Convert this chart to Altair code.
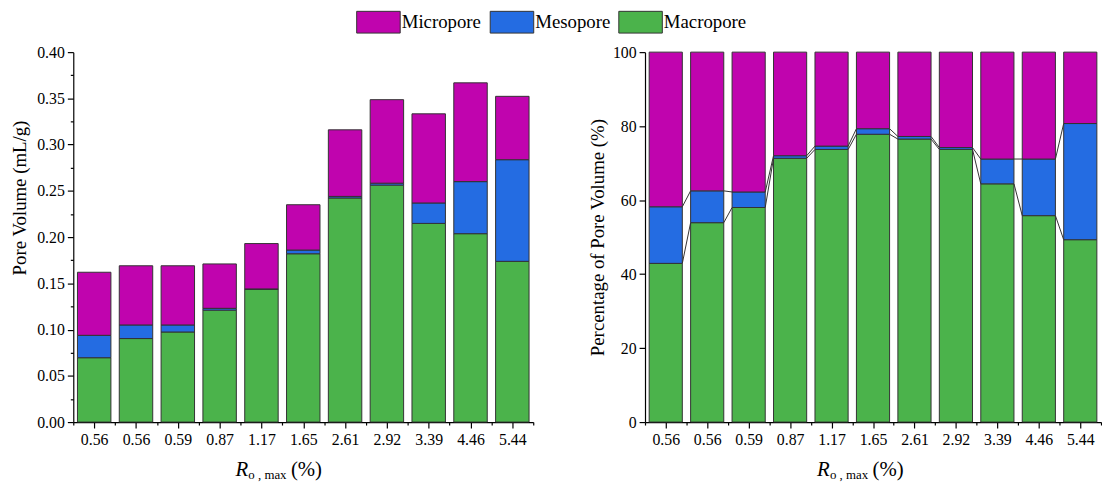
import altair as alt
import pandas as pd

# ---- data ----
ro_labels = ["0.56", "0.56", "0.59", "0.87", "1.17", "1.65", "2.61", "2.92", "3.39", "4.46", "5.44"]
components = ["Micropore", "Mesopore", "Macropore"]
colors = ["#C004AE", "#246CE2", "#4BB34B"]

macro_vol = [0.0696, 0.0903, 0.0974, 0.1210, 0.1434, 0.1820, 0.2423, 0.2562, 0.2148, 0.2037, 0.1738]
meso_vol = [0.0242, 0.0147, 0.0076, 0.0020, 0.0006, 0.0040, 0.0017, 0.0021, 0.0221, 0.0563, 0.1099]
micro_vol = [0.0682, 0.0640, 0.0640, 0.0480, 0.0490, 0.0490, 0.0720, 0.0903, 0.0964, 0.1068, 0.0685]

macro_pct = [42.9, 53.9, 58.0, 71.3, 73.7, 77.8, 76.5, 73.7, 64.4, 55.8, 49.3]
meso_pct = [15.3, 8.6, 4.2, 0.7, 0.9, 1.5, 0.7, 0.5, 6.7, 15.3, 31.4]
micro_pct = [round(100 - a - b, 2) for a, b in zip(macro_pct, meso_pct)]

HALF = 0.4  # half bar width in category units


def stacked(macro, meso, micro):
    rows = []
    for i in range(len(ro_labels)):
        b0 = 0.0
        for comp, v in (("Macropore", macro[i]), ("Mesopore", meso[i]), ("Micropore", micro[i])):
            rows.append({"idx": i, "lo": i - HALF, "hi": i + HALF,
                         "component": comp, "y0": b0, "y1": b0 + v})
            b0 += v
    return pd.DataFrame(rows)


def connectors(macro, meso):
    rows = []
    for i in range(len(ro_labels) - 1):
        rows.append({"xa": i + HALF, "xb": i + 1 - HALF, "ya": macro[i], "yb": macro[i + 1]})
        rows.append({"xa": i + HALF, "xb": i + 1 - HALF,
                     "ya": macro[i] + meso[i], "yb": macro[i + 1] + meso[i + 1]})
    return pd.DataFrame(rows)


left_df = stacked(macro_vol, meso_vol, micro_vol)
right_df = stacked(macro_pct, meso_pct, micro_pct)
conn_df = connectors(macro_pct, meso_pct)

FONT = "Liberation Serif"
W_L, W_R, H = 465, 461, 374

label_arr = "[" + ",".join("'" + s + "'" for s in ro_labels) + "]"
x_scale = alt.Scale(domain=[-0.5, len(ro_labels) - 0.5], nice=False, zero=False)
x_axis = alt.Axis(
    title=None,
    values=[k * 0.5 - 0.5 for k in range(2 * len(ro_labels) + 1)],
    labelExpr="datum.value % 1 == 0 ? " + label_arr + "[datum.value] : ''",
    tickSize={"condition": {"test": "datum.value % 1 != 0", "value": 3}, "value": 6},
    labelPadding=4,
    labelFlush=False,
    labelOverlap=False,
)

color = alt.Color(
    "component:N",
    scale=alt.Scale(domain=components, range=colors),
    legend=alt.Legend(
        title=None, orient="none", direction="horizontal",
        legendX=297, legendY=-42,
        symbolType="M-2,-1H2V1H-2Z", symbolSize=484,
        symbolStrokeColor="#333333", symbolStrokeWidth=1, symbolOpacity=1,
        labelFont=FONT, labelFontSize=19, labelColor="#000000",
        labelOffset=12, columnPadding=6, padding=0,
    ),
)


def bar_layer(df, y_enc):
    return alt.Chart(df).mark_bar(stroke="#333333", strokeWidth=1, opacity=1).encode(
        x=alt.X("lo:Q", scale=x_scale, axis=x_axis),
        x2="hi:Q",
        y=y_enc,
        y2="y1:Q",
        color=color,
    )


def xtitle(offset_x):
    one = pd.DataFrame({"k": [0]})
    base = alt.Chart(one)
    r = base.mark_text(text="R", font=FONT, fontSize=21, fontStyle="italic",
                       align="left", baseline="alphabetic", color="#000000").encode(
        x=alt.value(offset_x), y=alt.value(H + 55))
    sub = base.mark_text(text="o , max", font=FONT, fontSize=13,
                         align="left", baseline="alphabetic", color="#000000").encode(
        x=alt.value(offset_x + 13), y=alt.value(H + 58))
    pc = base.mark_text(text="(%)", font=FONT, fontSize=21,
                        align="left", baseline="alphabetic", color="#000000").encode(
        x=alt.value(offset_x + 56), y=alt.value(H + 55))
    return [r, sub, pc]


left_y = alt.Y(
    "y0:Q",
    scale=alt.Scale(domain=[0, 0.4], nice=False),
    axis=alt.Axis(
        title="Pore Volume (mL/g)",
        values=[k * 0.025 for k in range(17)],
        labelExpr="abs(datum.value*20 - round(datum.value*20)) < 0.001 ? format(datum.value, '.2f') : ''",
        tickSize={"condition": {"test": "abs(datum.value*20 - round(datum.value*20)) >= 0.001", "value": 3}, "value": 6},
        titleY=147, titlePadding=7,
    ),
)

right_y = alt.Y(
    "y0:Q",
    scale=alt.Scale(domain=[0, 100], nice=False),
    axis=alt.Axis(
        title="Percentage of Pore Volume (%)",
        values=list(range(0, 101, 10)),
        labelExpr="datum.value % 20 == 0 ? datum.label : ''",
        tickSize={"condition": {"test": "datum.value % 20 != 0", "value": 3}, "value": 6},
        titlePadding=5,
    ),
)

left = alt.layer(bar_layer(left_df, left_y), *xtitle(164)).properties(width=W_L, height=H)

rules = alt.Chart(conn_df).mark_rule(color="#333333", strokeWidth=1).encode(
    x=alt.X("xa:Q", scale=x_scale, axis=x_axis),
    x2="xb:Q",
    y=alt.Y("ya:Q"),
    y2="yb:Q",
)
right = alt.layer(bar_layer(right_df, right_y), rules, *xtitle(174)).properties(width=W_R, height=H)

chart = alt.hconcat(left, right, spacing=55).properties(
    padding={"left": 3, "top": 0, "right": 0, "bottom": 0}
).configure_view(
    strokeWidth=0
).configure_axis(
    grid=False,
    labelFont=FONT, labelFontSize=16, labelColor="#000000",
    titleFont=FONT, titleFontSize=19, titleFontWeight="normal", titleColor="#000000",
    domainColor="#000000", domainWidth=1.2, tickColor="#000000", tickWidth=1.2,
    labelPadding=3,
)

chart.save("out.html", embed_options={"renderer": "svg", "actions": False})
